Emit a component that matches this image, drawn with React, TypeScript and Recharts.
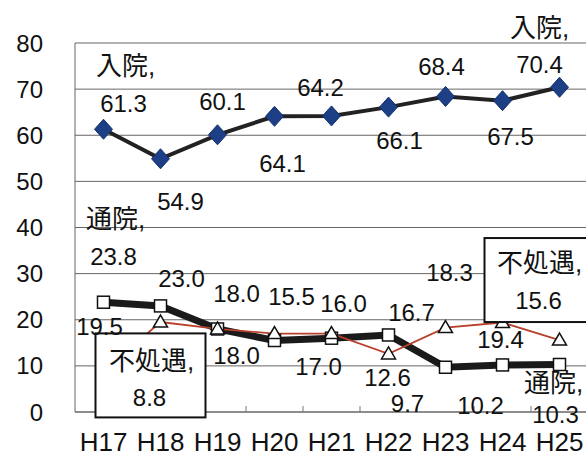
import { LineChart, Line, XAxis, YAxis, CartesianGrid, LabelList } from 'recharts';

const years = ['H17', 'H18', 'H19', 'H20', 'H21', 'H22', 'H23', 'H24', 'H25'];
const inpatient = [61.3, 54.9, 60.1, 64.1, 64.2, 66.1, 68.4, 67.5, 70.4];
const outpatient = [23.8, 23.0, 18.0, 15.5, 16.0, 16.7, 9.7, 10.2, 10.3];
const nonTreatment = [8.8, 19.5, 18.0, 17.0, 17.0, 12.6, 18.3, 19.4, 15.6];
const yTicks = [0, 10, 20, 30, 40, 50, 60, 70, 80];

const data = years.map((year, i) => ({
  year,
  inpatient: inpatient[i],
  outpatient: outpatient[i],
  nonTreatment: nonTreatment[i],
}));

// value label offsets [dx, dy] from each marker; null = no label
const inpatientLabelPos = [[20, -26], [20, 43], [5, -33], [8, 47], [-11, -28], [11, 33], [-4, -30], [8, 36], [-20, -23]];
const outpatientLabelPos = [[10, -46], [21, -28], [19, -36], [17, -44], [12, -35], [23, -23], [-38, 36], [-22, 40], [-4, 50]];
const nonTreatmentLabelPos = [[46, 26], [-61, 4], [19, 26], null, [-13, 33], [-1, 24], [4, -55], [-2, 17], [-21, -40]];

// series name placed above the value label at the first and last point
const inpatientNamePos: Record<number, number[]> = { 0: [22, -64], 8: [-20, -60] };
const outpatientNamePos: Record<number, number[]> = { 0: [12, -84], 8: [-6, 18] };
const nonTreatmentNamePos: Record<number, number[]> = { 0: [48, -11], 8: [-20, -78] };
// callout frames for 不処遇: [left, top, width, height] relative to the marker
const nonTreatmentFrames: Record<number, number[]> = { 0: [-8, -38, 110, 84], 8: [-75, -102, 130, 84] };

const NUM_FONT = '"Liberation Sans", Arial, sans-serif';
const JP_FONT = '"Liberation Sans", "Noto Sans CJK JP", sans-serif';

function makeLabel(pos: (number[] | null)[], names: Record<number, number[]>, name: string) {
  return (props: any) => {
    const { x, y, index, value } = props;
    const p = pos[index];
    const n = names[index];
    return (
      <g key={`lbl-${name}-${index}`}>
        {p && (
          <text x={x + p[0]} y={y + p[1] + 8.6} textAnchor="middle" fontSize={24} fontFamily={NUM_FONT} fill="#111">
            {Number(value).toFixed(1)}
          </text>
        )}
        {n && (
          <text x={x + n[0]} y={y + n[1] + 9.5} textAnchor="middle" fontSize={26} fontFamily={JP_FONT} fill="#111">
            {name},
          </text>
        )}
      </g>
    );
  };
}

const frameLabel = (props: any) => {
  const { x, y, index } = props;
  const f = nonTreatmentFrames[index];
  if (!f) return null;
  return (
    <rect key={`frame-${index}`} x={x + f[0]} y={y + f[1]} width={f[2]} height={f[3]} fill="#fff" stroke="#111" strokeWidth={2} />
  );
};

const Diamond = (p: any) => {
  const { cx, cy, index } = p;
  if (cx == null || cy == null) return null;
  return (
    <path key={`dia-${index}`} d={`M${cx},${cy - 10}L${cx + 9},${cy}L${cx},${cy + 10}L${cx - 9},${cy}Z`} fill="#1d3f86" stroke="#15306a" strokeWidth={1} />
  );
};

const Square = (p: any) => {
  const { cx, cy, index } = p;
  if (cx == null || cy == null) return null;
  return <rect key={`sq-${index}`} x={cx - 6} y={cy - 6} width={12} height={12} fill="#fff" stroke="#111" strokeWidth={1.5} />;
};

const Triangle = (p: any) => {
  const { cx, cy, index } = p;
  if (cx == null || cy == null) return null;
  return (
    <path key={`tri-${index}`} d={`M${cx},${cy - 7}L${cx + 7},${cy + 5}L${cx - 7},${cy + 5}Z`} fill="#fff" stroke="#111" strokeWidth={1.5} />
  );
};

// category label plus a short inward tick on the boundary to its left
const YearTick = (props: any) => {
  const { x, y, payload } = props;
  const half = payload?.offset || 28.5;
  const i = years.indexOf(payload?.value);
  return (
    <g>
      {i > 0 && <line x1={x - half} x2={x - half} y1={y - 16} y2={y - 22} stroke="#777" strokeWidth={1} />}
      <text x={x} y={y} dy={23} textAnchor="middle" fontSize={26} fontFamily={NUM_FONT} fill="#111">
        {payload.value}
      </text>
    </g>
  );
};

export default function App() {
  return (
    <div style={{ position: 'fixed', left: 0, top: 0, width: 586, height: 457, overflow: 'hidden', background: '#fff' }}>
      <LineChart width={600} height={457} data={data} margin={{ top: 43, right: 12, left: 0, bottom: 0 }}>
        <CartesianGrid vertical={false} stroke="#666" />
        <XAxis
          dataKey="year"
          scale="band"
          height={45}
          axisLine={{ stroke: '#666' }}
          tickLine={false}
          tickSize={0}
          tickMargin={16}
          tick={<YearTick />}
          interval={0}
        />
        <YAxis
          domain={[0, 80]}
          ticks={yTicks}
          width={75}
          axisLine={{ stroke: '#666' }}
          tickLine={false}
          tickSize={0}
          tickMargin={32}
          tick={{ fontSize: 24, fontFamily: NUM_FONT, fill: '#111' }}
        />
        {/* frames behind the 不処遇 callouts */}
        <Line dataKey="nonTreatment" stroke="none" dot={false} activeDot={false} isAnimationActive={false}>
          <LabelList dataKey="nonTreatment" content={frameLabel} />
        </Line>
        <Line dataKey="outpatient" stroke="#1a1a1a" strokeWidth={7} dot={<Square />} activeDot={false} isAnimationActive={false}>
          <LabelList dataKey="outpatient" content={makeLabel(outpatientLabelPos, outpatientNamePos, '通院')} />
        </Line>
        <Line dataKey="nonTreatment" stroke="#b8412c" strokeWidth={1.8} dot={<Triangle />} activeDot={false} isAnimationActive={false}>
          <LabelList dataKey="nonTreatment" content={makeLabel(nonTreatmentLabelPos, nonTreatmentNamePos, '不処遇')} />
        </Line>
        <Line dataKey="inpatient" stroke="#222" strokeWidth={4} dot={<Diamond />} activeDot={false} isAnimationActive={false}>
          <LabelList dataKey="inpatient" content={makeLabel(inpatientLabelPos, inpatientNamePos, '入院')} />
        </Line>
      </LineChart>
    </div>
  );
}
